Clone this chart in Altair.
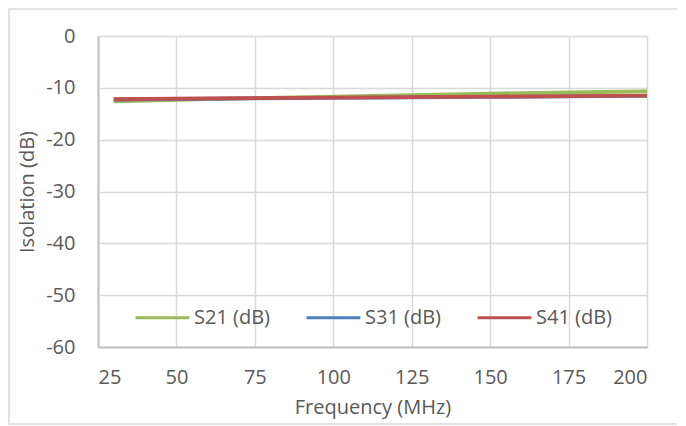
import altair as alt
import pandas as pd

freq = [30, 50, 75, 100, 125, 150, 175, 200]
s21 = [-12.6, -12.3, -12.0, -11.7, -11.4, -11.1, -10.9, -10.7]
s31 = [-12.25, -12.15, -12.05, -11.95, -11.85, -11.75, -11.65, -11.55]
s41 = [-12.2, -12.1, -12.0, -11.9, -11.8, -11.7, -11.6, -11.5]
series = ["S21 (dB)", "S31 (dB)", "S41 (dB)"]
colors = ["#9bbb59", "#4f81bd", "#c0504d"]

rows = []
for name, vals in zip(series, [s21, s31, s41]):
    for f, v in zip(freq, vals):
        rows.append({"Frequency": f, "Value": v, "Series": name})
df = pd.DataFrame(rows)

font = "Open Sans"
txt = "#595959"

lines = alt.Chart(df).mark_line(strokeWidth=3.8).encode(
    x=alt.X("Frequency:Q", scale=alt.Scale(domain=[25, 200], nice=False),
            axis=alt.Axis(values=[25, 50, 75, 100, 125, 150, 175, 200],
                          title="Frequency (MHz)", grid=True, domain=True, ticks=False,
                          labelPadding=20, titlePadding=10)),
    y=alt.Y("Value:Q", scale=alt.Scale(domain=[-60, 0], nice=False),
            axis=alt.Axis(values=[0, -10, -20, -30, -40, -50, -60],
                          labelExpr="datum.value == 0 ? '0' : '-' + abs(datum.value)",
                          title="Isolation (dB)", grid=True, domain=True, ticks=False,
                          labelPadding=23, titlePadding=8)),
    color=alt.Color("Series:N", scale=alt.Scale(domain=series, range=colors),
                    legend=alt.Legend(title=None, orient="none", legendX=36, legendY=253,
                                      direction="horizontal", columns=3, symbolType="stroke",
                                      symbolSize=2900, symbolStrokeWidth=3,
                                      columnPadding=30, labelFontSize=20, labelColor=txt,
                                      labelFont=font, labelOffset=3)),
    order=alt.Order("Series:N"),
)

border = alt.Chart(pd.DataFrame({"a": [0]})).mark_rect(
    fill=None, stroke="#d9d9d9", strokeWidth=1.5, clip=False
).encode(x=alt.value(-89), x2=alt.value(582), y=alt.value(-27), y2=alt.value(388))

chart = alt.layer(border, lines).properties(
    width=549, height=311,
    padding={"left": 90, "top": 28, "right": 30, "bottom": 79},
    autosize="none",
).configure_view(stroke=None).configure_axis(
    labelFont=font, titleFont=font, labelColor=txt, titleColor=txt,
    labelFontSize=20, titleFontSize=20, titleFontWeight="normal",
    gridColor="#d9d9d9", gridWidth=1.5, domainColor="#bfbfbf", domainWidth=2,
    tickColor="#bfbfbf",
)

chart.save("out.html", embed_options={"renderer": "svg", "actions": False})
